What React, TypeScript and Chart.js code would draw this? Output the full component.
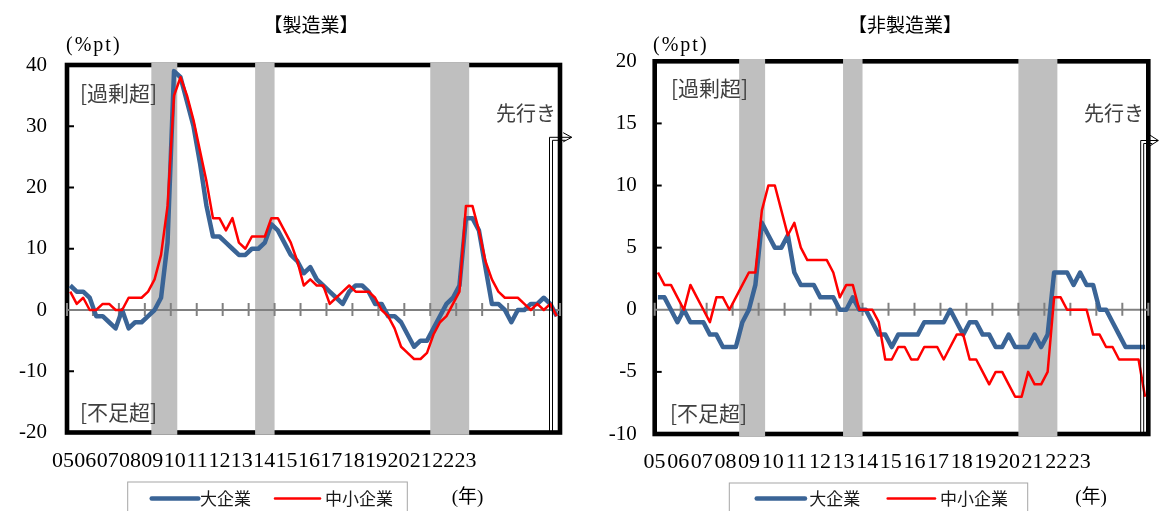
import React, { useEffect, useRef } from 'react';
import { Chart, registerables } from 'chart.js';

Chart.register(...registerables);

// ---------------- data ----------------
const yearLabels = ['05','06','07','08','09','10','11','12','13','14','15','16','17','18','19','20','21','22','23'];
const seriesNames = ['大企業', '中小企業'];
const seriesColors = ['#3A6496', '#FF0000'];
const unitLabel = '(%pt)';
const yearUnit = '(年)';
const excessLabel = '[過剰超]';
const shortageLabel = '[不足超]';
const aheadLabel = '先行き';
const titles = ['【製造業】', '【非製造業】'];

// quarterly, 2005Q1 ... last point = forecast
const mfgLarge = [4,3,3,2,-1,-1,-2,-3,0,-3,-2,-2,-1,0,2,11,39,38,34,30,24,17,12,12,11,10,9,9,10,10,11,14,13,11,9,8,6,7,5,4,3,2,1,3,4,4,3,1,1,-1,-1,-2,-4,-6,-5,-5,-3,-1,1,2,4,15,15,13,7,1,1,0,-2,0,0,1,1,2,1,-1];
const mfgSmall = [3,1,2,0,0,1,1,0,0,2,2,2,3,5,9,17,35,38,35,31,26,21,15,15,13,15,11,10,12,12,12,15,15,13,11,8,4,5,4,4,1,2,3,4,3,3,3,2,0,-1,-3,-6,-7,-8,-8,-7,-4,-2,-1,1,3,17,17,13,8,5,3,2,2,2,1,0,1,0,1,-1];
const nonmfgLarge = [1,1,0,-1,0,-1,-1,-1,-2,-2,-3,-3,-3,-1,0,2,7,6,5,5,6,3,2,2,2,1,1,1,0,0,1,0,0,-1,-2,-2,-3,-2,-2,-2,-2,-1,-1,-1,-1,0,-1,-2,-1,-1,-2,-2,-3,-3,-2,-3,-3,-3,-2,-3,-2,3,3,3,2,3,2,2,0,0,-1,-2,-3,-3,-3,-3];
const nonmfgSmall = [3,2,2,1,0,2,1,0,-1,1,1,0,1,2,3,3,8,10,10,8,6,7,5,4,4,4,4,3,1,2,2,0,0,0,-1,-4,-4,-3,-3,-4,-4,-3,-3,-3,-4,-3,-2,-2,-4,-4,-5,-6,-5,-5,-6,-7,-7,-5,-6,-6,-5,1,1,0,0,0,0,-2,-2,-3,-3,-4,-4,-4,-4,-7];

// recession periods, in quarter-slot index [start, end)
const recessionSpans = [[13, 17], [29, 32], [56, 62]];

// ---------------- layout ----------------
const W = 1159;
const H = 511;
const AXIS_W = 60;

const panels = [
  {
    title: titles[0], large: mfgLarge, small: mfgSmall,
    yMin: -20, yMax: 40, yStep: 10,
    area: { left: 67, right: 560, top: 65, bottom: 432.5 },
    tickPad: 20, titleX: 311, unitX: 66,
    xLabelStart: 51.7, xLabelStep: 22.37, xLabelY: 461,
    excess: [80, 93.5], shortage: [80, 412],
    aheadRight: 556, aheadY: 113,
    arrow: { shaft: 549.5, top: 137.3, tip: 571.7, half: 4.6 },
    legend: { boxL: 127.7, boxR: 407.3, boxT: 482, y: 498.5, l1: [151.7, 198.3], t1: 200, l2: [275, 320], t2: 325 },
    yearX: 467.5,
  },
  {
    title: titles[1], large: nonmfgLarge, small: nonmfgSmall,
    yMin: -10, yMax: 20, yStep: 5,
    area: { left: 654.7, right: 1148.3, top: 61.3, bottom: 434 },
    tickPad: 18, titleX: 905, unitX: 653,
    xLabelStart: 642.7, xLabelStep: 23.63, xLabelY: 462,
    excess: [671, 88.5], shortage: [670, 413.5],
    aheadRight: 1144, aheadY: 113,
    arrow: { shaft: 1140.7, top: 140.5, tip: 1158.3, half: 5.5 },
    legend: { boxL: 729.3, boxR: 1027.7, boxT: 483, y: 498.5, l1: [756.7, 805], t1: 809.3, l2: [887.7, 935], t2: 940 },
    yearX: 1091,
  },
];

const JP = "'Noto Sans CJK JP', 'Noto Sans', sans-serif";
const SERIF = "'Liberation Serif', 'Noto Sans CJK JP', serif";

function makeDecor(p: any) {
  return {
    id: 'decor',
    beforeDatasetsDraw(chart: any) {
      const { ctx, chartArea: a, scales } = chart;
      const xs = scales.x;
      const ys = scales.y;
      ctx.save();
      // frame
      ctx.strokeStyle = '#000';
      ctx.lineWidth = 4.6;
      ctx.strokeRect(a.left, a.top, a.right - a.left, a.bottom - a.top);
      // recession bands
      ctx.fillStyle = '#BFBFBF';
      for (const [s, e] of recessionSpans) {
        const x1 = xs.getPixelForValue(s);
        const x2 = xs.getPixelForValue(e);
        ctx.fillRect(x1, a.top - 2.3, x2 - x1, a.bottom - a.top + 4.6);
      }
      // inner y ticks
      ctx.strokeStyle = '#000';
      ctx.lineWidth = 2;
      for (const t of ys.ticks) {
        if (t.value === p.yMin || t.value === p.yMax || t.value === 0) continue;
        const y = ys.getPixelForValue(t.value);
        ctx.beginPath();
        ctx.moveTo(a.left, y);
        ctx.lineTo(a.left + 7, y);
        ctx.stroke();
      }
      // zero line and year ticks
      const y0 = ys.getPixelForValue(0);
      ctx.strokeStyle = '#808080';
      ctx.lineWidth = 2;
      ctx.beginPath();
      ctx.moveTo(a.left, y0);
      ctx.lineTo(a.right, y0);
      ctx.stroke();
      for (let j = 0; j <= yearLabels.length; j++) {
        const x = xs.getPixelForValue(j * 4);
        ctx.beginPath();
        ctx.moveTo(x, y0 - 7);
        ctx.lineTo(x, y0 + 6);
        ctx.stroke();
      }
      ctx.restore();
    },
    afterDraw(chart: any) {
      const { ctx, chartArea: a } = chart;
      ctx.save();
      // forecast arrow
      const ar = p.arrow;
      ctx.strokeStyle = '#000';
      ctx.lineWidth = 1;
      ctx.beginPath();
      ctx.moveTo(ar.shaft, a.bottom);
      ctx.lineTo(ar.shaft, ar.top);
      ctx.lineTo(ar.tip, ar.top);
      ctx.moveTo(ar.shaft + 3, a.bottom);
      ctx.lineTo(ar.shaft + 3, ar.top + 3);
      ctx.lineTo(ar.tip - 6, ar.top + 3);
      ctx.moveTo(ar.tip - 8.5, ar.top - ar.half);
      ctx.lineTo(ar.tip, ar.top);
      ctx.lineTo(ar.tip - 8.5, ar.top + ar.half);
      ctx.stroke();

      // texts
      ctx.textBaseline = 'middle';
      ctx.fillStyle = '#000';
      ctx.font = `19px ${JP}`;
      ctx.textAlign = 'center';
      ctx.fillText(p.title, p.titleX, 25);

      ctx.textAlign = 'left';
      ctx.font = `20px ${SERIF}`;
      (ctx as any).letterSpacing = '2px';
      ctx.fillText(unitLabel, p.unitX, 46);
      (ctx as any).letterSpacing = '0px';

      ctx.fillStyle = '#404040';
      ctx.font = `21px ${JP}`;
      ctx.fillText(excessLabel, p.excess[0], p.excess[1]);
      ctx.fillText(shortageLabel, p.shortage[0], p.shortage[1]);
      ctx.font = `20px ${JP}`;
      ctx.textAlign = 'right';
      ctx.fillText(aheadLabel, p.aheadRight, p.aheadY);

      // year labels
      ctx.fillStyle = '#000';
      ctx.font = `22px ${SERIF}`;
      ctx.textAlign = 'center';
      yearLabels.forEach((lab, i) => {
        ctx.fillText(lab, p.xLabelStart + (i + 0.5) * p.xLabelStep, p.xLabelY);
      });

      // legend
      const lg = p.legend;
      ctx.strokeStyle = '#A6A6A6';
      ctx.lineWidth = 1;
      ctx.strokeRect(lg.boxL, lg.boxT, lg.boxR - lg.boxL, 60);
      const ds = chart.data.datasets;
      const segs = [lg.l1, lg.l2];
      const tx = [lg.t1, lg.t2];
      ds.forEach((d: any, i: number) => {
        ctx.strokeStyle = d.borderColor;
        ctx.lineWidth = d.borderWidth;
        ctx.lineCap = 'round';
        ctx.beginPath();
        ctx.moveTo(segs[i][0], lg.y);
        ctx.lineTo(segs[i][1], lg.y);
        ctx.stroke();
        ctx.fillStyle = '#1a1a1a';
        ctx.font = `17px ${JP}`;
        ctx.textAlign = 'left';
        ctx.fillText(d.label, tx[i], lg.y);
      });
      ctx.fillStyle = '#000';
      ctx.font = `19px ${SERIF}`;
      ctx.textAlign = 'center';
      ctx.fillText(yearUnit, p.yearX, lg.y);
      ctx.restore();
    },
  };
}

function Panel({ p }: { p: any }) {
  const ref = useRef<HTMLCanvasElement | null>(null);
  useEffect(() => {
    if (!ref.current) return;
    const n = p.large.length;
    const chart = new Chart(ref.current, {
      type: 'line',
      data: {
        datasets: [
          {
            label: seriesNames[0],
            data: p.large.map((v: number, i: number) => ({ x: i + 0.5, y: v })),
            borderColor: seriesColors[0],
            borderWidth: 4.5,
            pointRadius: 0,
            tension: 0,
            order: 1,
            borderJoinStyle: 'round',
          },
          {
            label: seriesNames[1],
            data: p.small.map((v: number, i: number) => ({ x: i + 0.5, y: v })),
            borderColor: seriesColors[1],
            borderWidth: 2.5,
            pointRadius: 0,
            tension: 0,
            order: 0,
            borderJoinStyle: 'round',
          },
        ],
      },
      options: {
        responsive: false,
        animation: false,
        layout: {
          padding: {
            left: p.area.left - AXIS_W,
            right: W - p.area.right,
            top: p.area.top,
            bottom: H - p.area.bottom,
          },
        },
        plugins: {
          legend: { display: false },
          tooltip: { enabled: false },
          title: { display: false },
        },
        scales: {
          x: { type: 'linear', min: 0, max: n, display: false },
          y: {
            type: 'linear',
            min: p.yMin,
            max: p.yMax,
            ticks: {
              stepSize: p.yStep,
              color: '#000',
              padding: p.tickPad,
              font: { family: SERIF, size: 21 },
            },
            grid: { display: false, drawTicks: false },
            border: { display: false },
            afterFit: (s: any) => { s.width = AXIS_W; },
          },
        },
      } as any,
      plugins: [makeDecor(p)],
    });
    return () => chart.destroy();
  }, [p]);
  return (
    <canvas
      ref={ref}
      width={W}
      height={H}
      style={{ position: 'absolute', left: 0, top: 0, width: W, height: H }}
    />
  );
}

export default function App() {
  return (
    <div style={{ position: 'absolute', left: 0, top: 0, width: W, height: H, background: '#fff', overflow: 'hidden' }}>
      {panels.map((p, i) => (
        <Panel key={i} p={p} />
      ))}
    </div>
  );
}
